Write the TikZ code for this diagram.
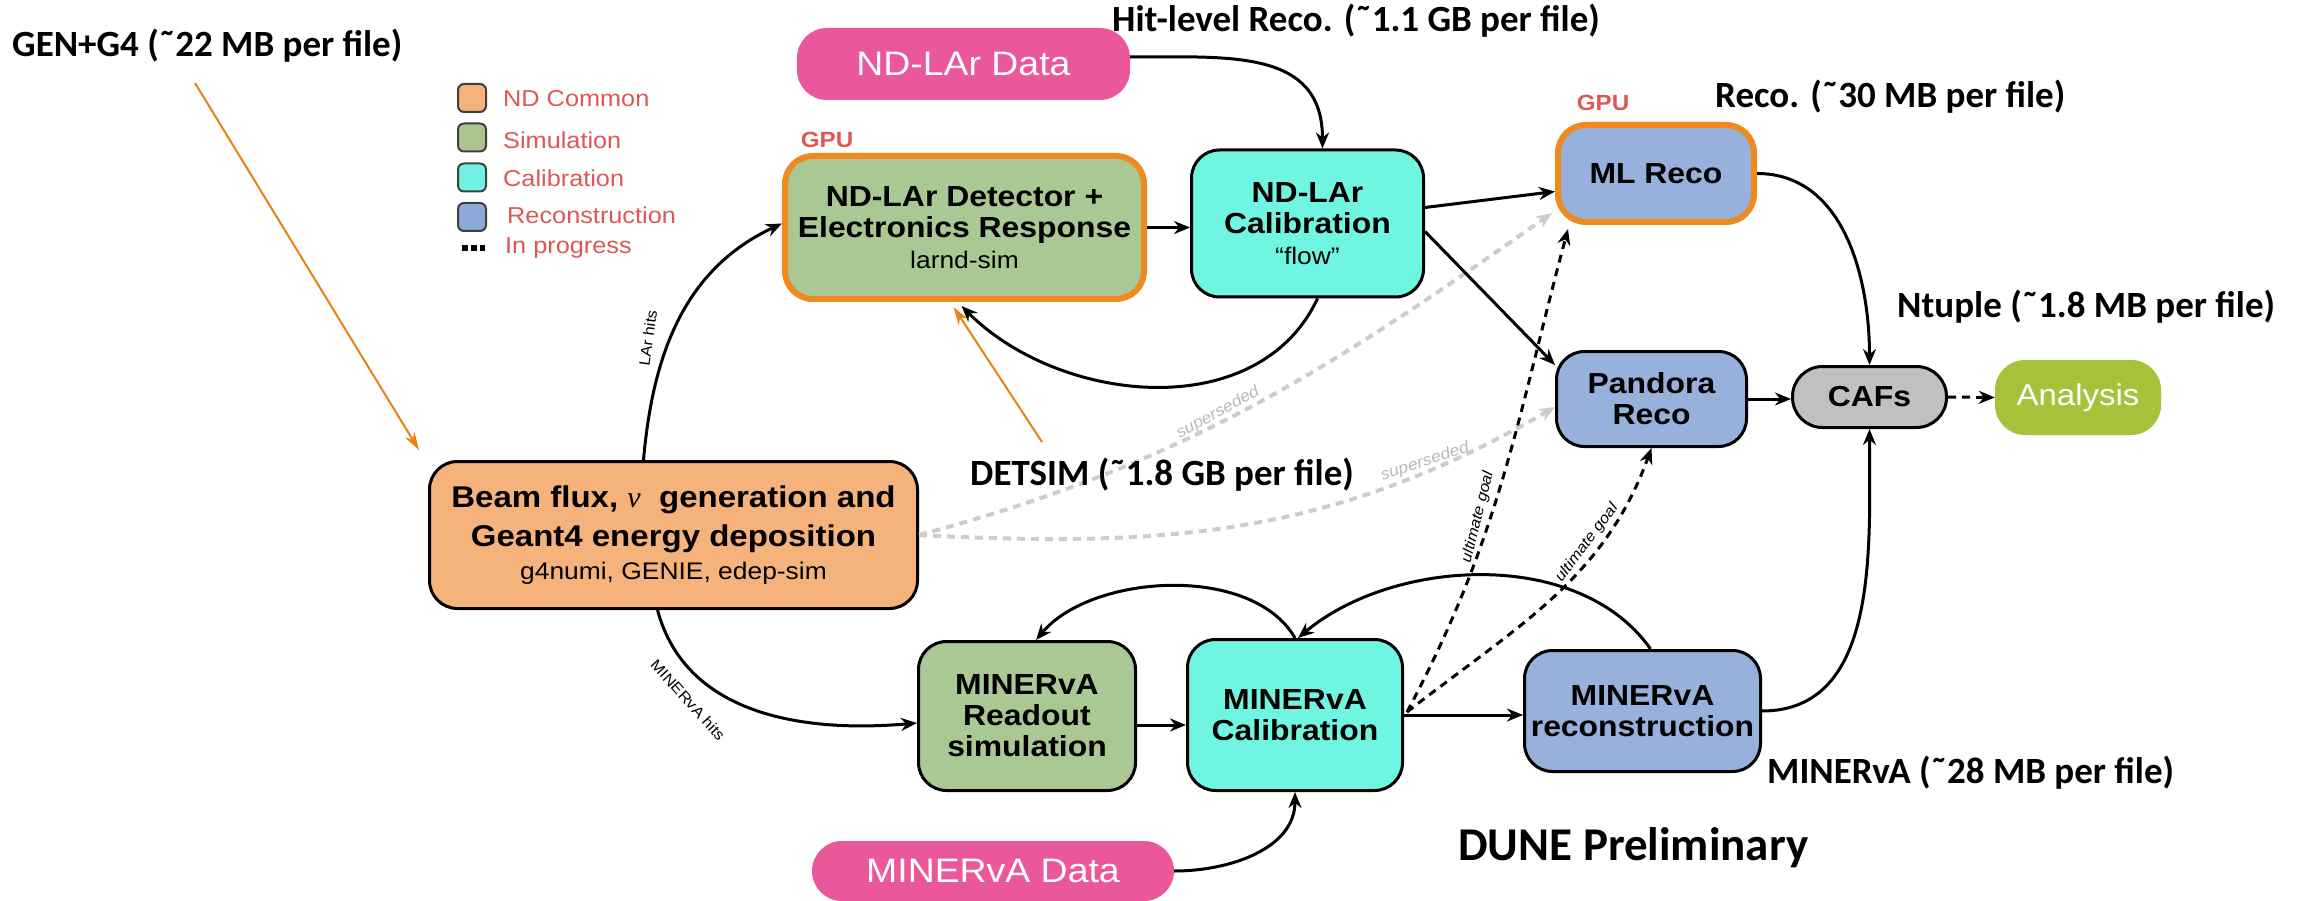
\documentclass[tikz,border=0pt]{standalone}
\usepackage{fontspec}
\usetikzlibrary{arrows.meta,calc}
\newfontfamily\hv{Liberation Sans}[FakeStretch=1.1]
\newfontfamily\annf{Carlito}
\newfontfamily\nuf{Liberation Serif}
\definecolor{pinkF}{RGB}{234,88,155}
\definecolor{beamO}{RGB}{245,178,122}
\definecolor{simG}{RGB}{170,200,148}
\definecolor{calC}{RGB}{112,245,224}
\definecolor{recB}{RGB}{152,176,220}
\definecolor{cafG}{RGB}{192,192,192}
\definecolor{anG}{RGB}{165,194,58}
\definecolor{orB}{RGB}{238,138,30}
\definecolor{orA}{RGB}{232,130,20}
\definecolor{greyD}{RGB}{205,205,205}
\definecolor{greyT}{RGB}{185,185,185}
\definecolor{legR}{RGB}{222,86,86}
\definecolor{lgO}{RGB}{245,178,122}
\definecolor{lgG}{RGB}{169,196,140}
\definecolor{lgC}{RGB}{112,240,224}
\definecolor{lgB}{RGB}{140,168,216}
\newcommand\subf{\mdseries\fontsize{24}{27}\selectfont}
\begin{document}
\begin{tikzpicture}[x=1pt,y=1pt,
  box/.style={draw=black, line width=3pt, rounded corners=28pt, inner sep=0pt, align=center, font=\hv\bfseries\fontsize{29}{31}\selectfont},
  gpubox/.style={box, draw=orB, line width=6pt},
  pill/.style={fill=pinkF, rounded corners=30pt, inner sep=0pt, text=white, font=\hv\fontsize{34}{36}\selectfont},
  arr/.style={line width=3pt, -{Stealth[length=16pt,width=13pt]}},
  dotarr/.style={arr, dash pattern=on 8pt off 6pt},
  grr/.style={draw=greyD, line width=4pt, dash pattern=on 8pt off 6pt, -{Stealth[length=16pt,width=13pt]}},
  orarr/.style={draw=orA, line width=2pt, -{Stealth[length=18pt,width=11pt]}},
  lab/.style={font=\hv\fontsize{15}{16}\selectfont, inner sep=0pt},
  glab/.style={inner sep=0pt, text=greyT, font=\hv\itshape\fontsize{16}{17}\selectfont},
  ulab/.style={inner sep=0pt, font=\hv\itshape\fontsize{15}{16}\selectfont},
  ann/.style={font=\annf\bfseries\fontsize{37}{40}\selectfont, inner sep=0pt, anchor=base west},
  leg/.style={font=\hv\fontsize{23}{25}\selectfont, text=legR, anchor=west, inner sep=0pt},
  legsq/.style={draw=black!75, line width=2pt, rounded corners=6pt, minimum size=28pt, inner sep=0pt},
  gpu/.style={font=\hv\bfseries\fontsize{22}{24}\selectfont, text=legR, inner sep=0pt}
]
\fill[white] (0,0) rectangle (2305,-901);
\useasboundingbox (0,0) rectangle (2305,-901);

% legend
\node[legsq, fill=lgO] (sq1) at (472,-98) {};
\node[legsq, fill=lgG] (sq2) at (472,-137.5) {};
\node[legsq, fill=lgC] (sq3) at (472,-177.5) {};
\node[legsq, fill=lgB] (sq4) at (472,-217) {};
\node[leg] (lg1) at (503,-99) {ND Common};
\node[leg] (lg2) at (503,-140) {Simulation};
\node[leg] (lg3) at (503,-178) {Calibration};
\node[leg] (lg4) at (507,-215) {Reconstruction};
\node[leg] (lg5) at (505,-248) {In progress};
\coordinate (dA) at (462,-248);
\coordinate (dB) at (485,-248);
\draw[line width=6pt, dash pattern=on 6pt off 3pt] (dA) -- (dB);

% nodes
\node[pill, minimum width=333pt, minimum height=72pt] (ndd) at (963.5,-64) {ND-LAr Data};
\node[gpubox, fill=simG, minimum width=359pt, minimum height=143pt] (det) at (964.5,-227.5) {ND-LAr Detector +\\Electronics Response\\{\subf larnd-sim}};
\node[box, fill=calC, minimum width=232pt, minimum height=147pt] (cal) at (1307.5,-223.5) {ND-LAr\\Calibration\\{\subf “flow”}};
\node[gpubox, fill=recB, minimum width=196pt, minimum height=97pt] (ml) at (1656,-173.5) {ML Reco};
\node[box, fill=recB, minimum width=190pt, minimum height=95pt] (pan) at (1651.5,-399) {Pandora\\Reco};
\node[box, fill=cafG, rounded corners=30pt, minimum width=154pt, minimum height=61pt] (caf) at (1869.5,-397) {CAFs};
\node[fill=anG, rounded corners=30pt, minimum width=166pt, minimum height=75pt, inner sep=0pt, text=white, font=\hv\fontsize{30}{32}\selectfont] (an) at (2078,-397.5) {Analysis};
\node[box, fill=beamO, minimum width=488pt, minimum height=147pt, font=\hv\bfseries\fontsize{30}{33}\selectfont] (beam) at (673.5,-535) {Beam flux, {\nuf\mdseries\itshape ν}\ \ generation and\\[6pt]Geant4 energy deposition\\{\subf g4numi, GENIE, edep-sim}};
\node[box, fill=simG, minimum width=217pt, minimum height=149pt] (ro) at (1027,-716) {MINERvA\\Readout\\simulation};
\node[box, fill=calC, minimum width=215pt, minimum height=151pt] (mc) at (1295,-715) {MINERvA\\Calibration};
\node[box, fill=recB, minimum width=236pt, minimum height=121pt] (mr) at (1642.5,-711) {MINERvA\\reconstruction};
\node[pill, minimum width=362pt, minimum height=60pt] (mdata) at (993,-871) {MINERvA Data};

\node[gpu] (gpu1) at (827,-140) {GPU};
\node[gpu] (gpu2) at (1603,-103) {GPU};

% grey superseded
\draw[grr] (beam.east) to[out=15,in=-145] ($(ml.south west)+(-3,12)$);
\draw[grr] (beam.east) to[out=-3,in=-150] ($(pan.west)+(0,-8)$);
\node[glab, rotate=29] (sup1) at (1218,-413) {superseded};
\node[glab, rotate=18] (sup2) at (1425,-462) {superseded};

% solid connectors
\draw[arr] ($(ndd.east)+(0,7)$) to[out=0,in=90,looseness=1.2] ($(cal.north)+(15,0)$);
\draw[arr] (det.east) -- (det.east -| cal.west);
\draw[arr] ($(cal.east)+(0,16)$) -- ($(ml.west)+(0,-18)$);
\draw[arr] ($(cal.east)+(0,-8)$) -- ($(pan.west)+(0,34)$);
\draw[arr] ($(cal.south)+(10,0)$) to[out=-115,in=-45] ($(det.south)+(-3,-4)$);
\draw[arr] ($(beam.north)+(-30,0)$) to[out=85,in=205] ($(det.west)+(0,4)$);
\draw[arr] ($(beam.south)+(-16,0)$) to[out=-75,in=185] ($(ro.west)+(0,-7)$);
\draw[arr] ($(ro.east)+(0,-9)$) -- ($(mc.west)+(0,-10)$);
\draw[arr] (mc.north) to[out=120,in=50,looseness=0.85] ($(ro.north)+(9,0)$);
\draw[arr] ($(mr.north)+(8,0)$) to[out=125,in=40,looseness=0.9] ($(mc.north)+(3,0)$);
\draw[arr] (mdata.east) to[out=0,in=-90] (mc.south);
\draw[arr] (mc.east) -- (mc.east -| mr.west);
\draw[arr] (mr.east) to[out=0,in=-90] (caf.south);
\draw[arr] (ml.east) to[out=0,in=90] (caf.north);
\draw[arr] (pan.east) -- (pan.east -| caf.west);
\draw[arr, dash pattern=on 8pt off 6pt] (caf.east) -- (an.west);

% dotted ultimate goal
\draw[dotarr] ($(mc.east)+(3,3)$) to[out=62,in=-105] ($(ml.south west)+(13,-4)$);
\draw[dotarr] ($(mc.east)+(3,3)$) to[out=38,in=-110] (pan.south);
\node[ulab, rotate=76] (ug1) at (1478,-517) {ultimate goal};
\node[ulab, rotate=53] (ug2) at (1587,-543) {ultimate goal};

% edge labels
\node[lab, rotate=82] (larlab) at (648,-338) {LAr hits};
\node[lab, rotate=-48] (minlab) at (688,-700) {MINERvA hits};

% annotations
\node[ann] (gen) at (12,-57) {GEN+G4 (˜22 MB per file)};
\node[ann] (hit) at (1112,-32) {Hit-level Reco. (˜1.1 GB per file)};
\node[ann] (rec) at (1715,-108) {Reco. (˜30 MB per file)};
\node[ann] (ntp) at (1897,-317) {Ntuple (˜1.8 MB per file)};
\node[ann] (dets) at (970,-485) {DETSIM (˜1.8 GB per file)};
\node[ann] (minf) at (1767,-783) {MINERvA (˜28 MB per file)};
\node[ann, font=\annf\bfseries\fontsize{47}{50}\selectfont] (dune) at (1458,-860) {DUNE Preliminary};

\coordinate (gentail) at (195,-83);
\coordinate (dettail) at (1042,-442);
\draw[orarr] (gentail) -- ($(beam.north west)+(-9,10)$);
\draw[orarr] (dettail) -- ($(det.south)+(-11,-5)$);
\end{tikzpicture}
\end{document}
